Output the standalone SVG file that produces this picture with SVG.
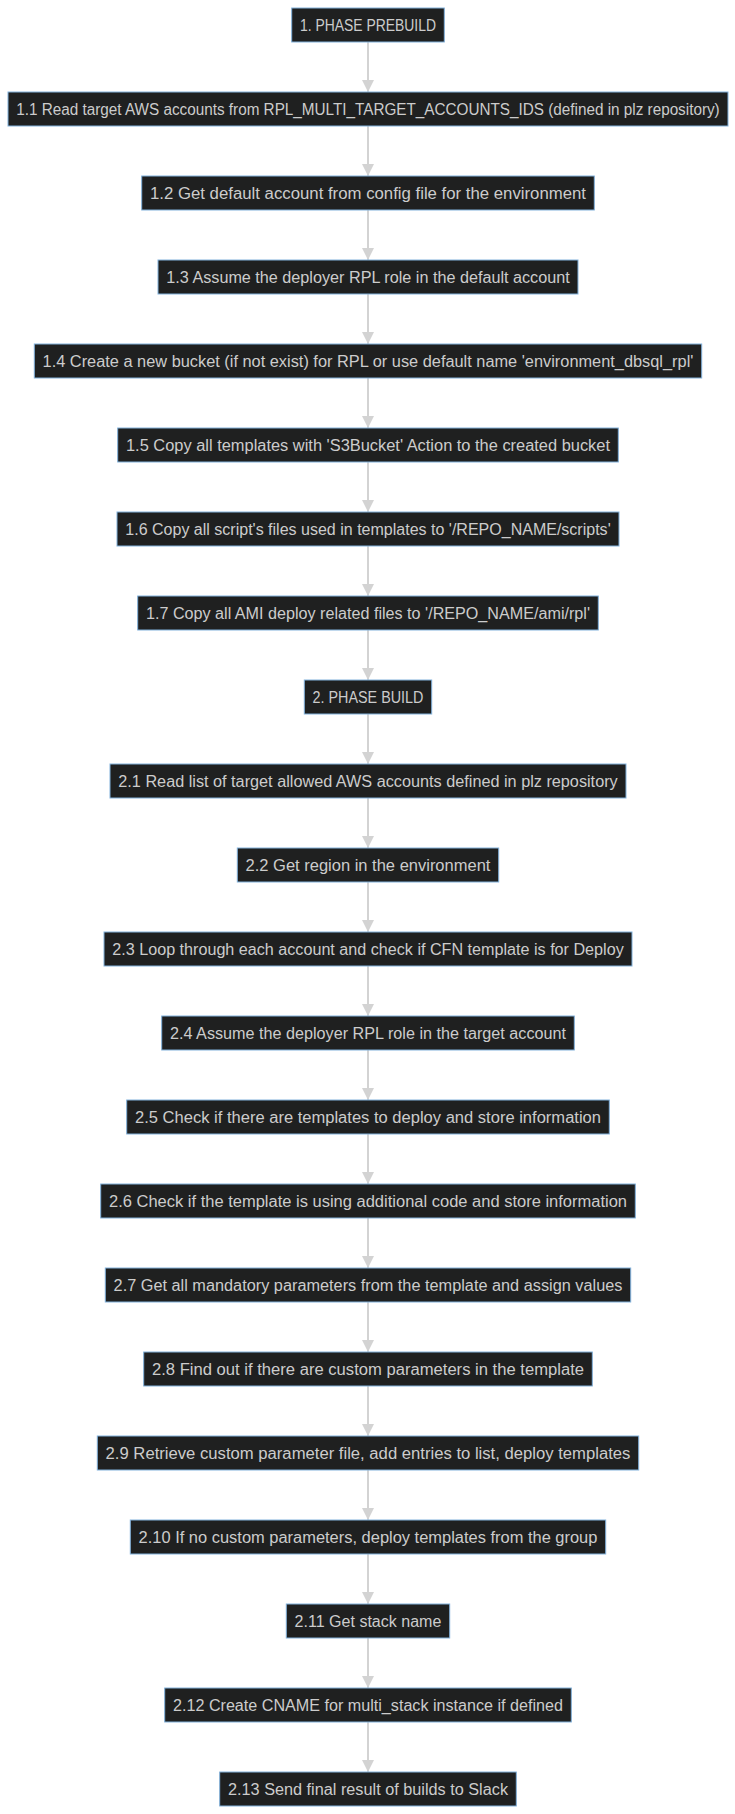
<svg xmlns="http://www.w3.org/2000/svg" width="735" height="1814" viewBox="0 0 735 1814">
<style>
.node rect{fill:#1f2020;stroke:#81B1DB;stroke-width:1}
.node text{fill:#cccccc;font-family:"Liberation Sans",Arial,sans-serif;font-size:16px;text-anchor:middle}
.edge{stroke:#d3d3d3;stroke-width:2;fill:none}
</style>
<defs>
<marker id="arrow" viewBox="0 0 10 10" refX="10" refY="5" markerWidth="12" markerHeight="12" markerUnits="userSpaceOnUse" orient="auto">
<path d="M0,0 L10,5 L0,10 z" fill="#d3d3d3"/>
</marker>
</defs>
<rect width="735" height="1814" fill="#ffffff"/>
<g id="edges">
<path class="edge" d="M368,42 V92" marker-end="url(#arrow)"/>
<path class="edge" d="M368,126 V176" marker-end="url(#arrow)"/>
<path class="edge" d="M368,210 V260" marker-end="url(#arrow)"/>
<path class="edge" d="M368,294 V344" marker-end="url(#arrow)"/>
<path class="edge" d="M368,378 V428" marker-end="url(#arrow)"/>
<path class="edge" d="M368,462 V512" marker-end="url(#arrow)"/>
<path class="edge" d="M368,546 V596" marker-end="url(#arrow)"/>
<path class="edge" d="M368,630 V680" marker-end="url(#arrow)"/>
<path class="edge" d="M368,714 V764" marker-end="url(#arrow)"/>
<path class="edge" d="M368,798 V848" marker-end="url(#arrow)"/>
<path class="edge" d="M368,882 V932" marker-end="url(#arrow)"/>
<path class="edge" d="M368,966 V1016" marker-end="url(#arrow)"/>
<path class="edge" d="M368,1050 V1100" marker-end="url(#arrow)"/>
<path class="edge" d="M368,1134 V1184" marker-end="url(#arrow)"/>
<path class="edge" d="M368,1218 V1268" marker-end="url(#arrow)"/>
<path class="edge" d="M368,1302 V1352" marker-end="url(#arrow)"/>
<path class="edge" d="M368,1386 V1436" marker-end="url(#arrow)"/>
<path class="edge" d="M368,1470 V1520" marker-end="url(#arrow)"/>
<path class="edge" d="M368,1554 V1604" marker-end="url(#arrow)"/>
<path class="edge" d="M368,1638 V1688" marker-end="url(#arrow)"/>
<path class="edge" d="M368,1722 V1772" marker-end="url(#arrow)"/>
</g>
<g id="n0" class="node"><rect x="291.7" y="8" width="152.6" height="34"/><text x="368" y="30.7" textLength="136" lengthAdjust="spacingAndGlyphs">1. PHASE PREBUILD</text></g>
<g id="n1" class="node"><rect x="8" y="92" width="720" height="34"/><text x="368" y="114.7" textLength="703.4" lengthAdjust="spacingAndGlyphs">1.1 Read target AWS accounts from RPL_MULTI_TARGET_ACCOUNTS_IDS (defined in plz repository)</text></g>
<g id="n2" class="node"><rect x="141.7" y="176" width="452.6" height="34"/><text x="368" y="198.7" textLength="436" lengthAdjust="spacingAndGlyphs">1.2 Get default account from config file for the environment</text></g>
<g id="n3" class="node"><rect x="158" y="260" width="420" height="34"/><text x="368" y="282.7" textLength="403.4" lengthAdjust="spacingAndGlyphs">1.3 Assume the deployer RPL role in the default account</text></g>
<g id="n4" class="node"><rect x="34.3" y="344" width="667.4" height="34"/><text x="368" y="366.7" textLength="650.8" lengthAdjust="spacingAndGlyphs">1.4 Create a new bucket (if not exist) for RPL or use default name 'environment_dbsql_rpl'</text></g>
<g id="n5" class="node"><rect x="117.7" y="428" width="500.6" height="34"/><text x="368" y="450.7" textLength="484" lengthAdjust="spacingAndGlyphs">1.5 Copy all templates with 'S3Bucket' Action to the created bucket</text></g>
<g id="n6" class="node"><rect x="117" y="512" width="502" height="34"/><text x="368" y="534.7" textLength="485.4" lengthAdjust="spacingAndGlyphs">1.6 Copy all script's files used in templates to '/REPO_NAME/scripts'</text></g>
<g id="n7" class="node"><rect x="137.7" y="596" width="460.6" height="34"/><text x="368" y="618.7" textLength="444" lengthAdjust="spacingAndGlyphs">1.7 Copy all AMI deploy related files to '/REPO_NAME/ami/rpl'</text></g>
<g id="n8" class="node"><rect x="304.3" y="680" width="127.4" height="34"/><text x="368" y="702.7" textLength="110.8" lengthAdjust="spacingAndGlyphs">2. PHASE BUILD</text></g>
<g id="n9" class="node"><rect x="110" y="764" width="516" height="34"/><text x="368" y="786.7" textLength="499.4" lengthAdjust="spacingAndGlyphs">2.1 Read list of target allowed AWS accounts defined in plz repository</text></g>
<g id="n10" class="node"><rect x="237.3" y="848" width="261.4" height="34"/><text x="368" y="870.7" textLength="244.8" lengthAdjust="spacingAndGlyphs">2.2 Get region in the environment</text></g>
<g id="n11" class="node"><rect x="104" y="932" width="528" height="34"/><text x="368" y="954.7" textLength="511.4" lengthAdjust="spacingAndGlyphs">2.3 Loop through each account and check if CFN template is for Deploy</text></g>
<g id="n12" class="node"><rect x="161.7" y="1016" width="412.6" height="34"/><text x="368" y="1038.7" textLength="396" lengthAdjust="spacingAndGlyphs">2.4 Assume the deployer RPL role in the target account</text></g>
<g id="n13" class="node"><rect x="126.7" y="1100" width="482.6" height="34"/><text x="368" y="1122.7" textLength="466" lengthAdjust="spacingAndGlyphs">2.5 Check if there are templates to deploy and store information</text></g>
<g id="n14" class="node"><rect x="100.7" y="1184" width="534.6" height="34"/><text x="368" y="1206.7" textLength="518" lengthAdjust="spacingAndGlyphs">2.6 Check if the template is using additional code and store information</text></g>
<g id="n15" class="node"><rect x="105.3" y="1268" width="525.4" height="34"/><text x="368" y="1290.7" textLength="508.8" lengthAdjust="spacingAndGlyphs">2.7 Get all mandatory parameters from the template and assign values</text></g>
<g id="n16" class="node"><rect x="143.7" y="1352" width="448.6" height="34"/><text x="368" y="1374.7" textLength="432" lengthAdjust="spacingAndGlyphs">2.8 Find out if there are custom parameters in the template</text></g>
<g id="n17" class="node"><rect x="97.3" y="1436" width="541.4" height="34"/><text x="368" y="1458.7" textLength="524.8" lengthAdjust="spacingAndGlyphs">2.9 Retrieve custom parameter file, add entries to list, deploy templates</text></g>
<g id="n18" class="node"><rect x="130.3" y="1520" width="475.4" height="34"/><text x="368" y="1542.7" textLength="458.8" lengthAdjust="spacingAndGlyphs">2.10 If no custom parameters, deploy templates from the group</text></g>
<g id="n19" class="node"><rect x="286.3" y="1604" width="163.4" height="34"/><text x="368" y="1626.7" textLength="146.8" lengthAdjust="spacingAndGlyphs">2.11 Get stack name</text></g>
<g id="n20" class="node"><rect x="164.7" y="1688" width="406.6" height="34"/><text x="368" y="1710.7" textLength="390" lengthAdjust="spacingAndGlyphs">2.12 Create CNAME for multi_stack instance if defined</text></g>
<g id="n21" class="node"><rect x="219.7" y="1772" width="296.6" height="34"/><text x="368" y="1794.7" textLength="280" lengthAdjust="spacingAndGlyphs">2.13 Send final result of builds to Slack</text></g>
</svg>
